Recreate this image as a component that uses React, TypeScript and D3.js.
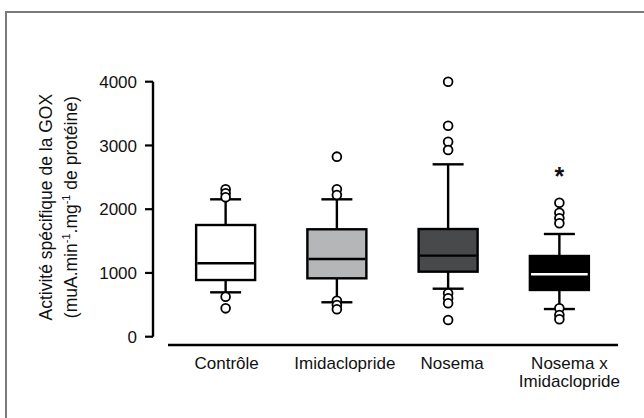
import React from 'react';
import * as d3 from 'd3';

const W = 644, H = 418;

const categories = [['Contrôle'], ['Imidaclopride'], ['Nosema'], ['Nosema x', 'Imidaclopride']];
const q1 = [889, 916, 1020, 733];
const median = [1151, 1219, 1271, 979];
const q3 = [1752, 1685, 1689, 1266];
const whiskLow = [696, 540, 753, 434];
const whiskHigh = [2155, 2155, 2704, 1611];
const outliers = [
  [2312, 2249, 2187, 627, 445],
  [2824, 2312, 2223, 565, 497, 430],
  [4000, 3310, 3059, 2929, 681, 602, 524, 262],
  [2102, 1945, 1857, 1779, 445, 340, 273],
];
const yTicks = [0, 1000, 2000, 3000, 4000];
const signif = ['', '', '', '*'];
const signifAt = 2600;

const fills = ['#ffffff', '#b5b6b8', '#48494b', '#000000'];
const medianColors = ['#000', '#000', '#000', '#fff'];
// labels in the original sit a little right of their boxes
const labelNudge = [1, 8, 4, 10];

const font = 'Arial, "Liberation Sans", sans-serif';

export default function App() {
  const y = d3.scaleLinear().domain([0, 4000]).range([336.7, 81.7]);
  const x = d3.scaleBand<number>().domain(d3.range(categories.length)).range([170, 615]).padding(0);
  const boxW = 59, capW = 31;
  const axisX = 153;

  return (
    <svg width={W} height={H} style={{ position: 'fixed', left: 0, top: 0, background: '#fff' }} fontFamily={font}>
      <rect width={W} height={H} fill="#fff" />
      {/* frame */}
      <path d={`M6,${H} V12 H${W}`} fill="none" stroke="#7a7a7a" strokeWidth={2} />

      {/* y axis */}
      <line x1={axisX} x2={axisX} y1={y(4000)} y2={y(0)} stroke="#000" strokeWidth={2.4} />
      {yTicks.map(t => (
        <g key={t}>
          <line x1={axisX - 8} x2={axisX} y1={y(t)} y2={y(t)} stroke="#000" strokeWidth={2.2} />
          <text x={137} y={y(t)} dy="0.36em" textAnchor="end" fontSize={17} fill="#111">{t}</text>
        </g>
      ))}
      <g transform={`translate(0,${(y(0) + y(4000)) / 2 - 2}) rotate(-90)`} fontSize={17.5} fill="#111" textAnchor="middle">
        <text x={0} y={52}>Activité spécifique de la GOX</text>
        <text x={0} y={77}>
          (muA.min<tspan fontSize={11} dy={-7}>-1</tspan>
          <tspan dy={7}>.mg</tspan>
          <tspan fontSize={11} dy={-7}>-1</tspan>
          <tspan dy={7}> de protéine)</tspan>
        </text>
      </g>

      {/* x axis */}
      <line x1={168} x2={618} y1={345} y2={345} stroke="#000" strokeWidth={2.4} />
      {categories.map((lines, i) => (
        <text key={i} x={(x(i) as number) + x.bandwidth() / 2 + labelNudge[i]} y={369} textAnchor="middle" fontSize={17} fill="#111">
          {lines.map((l, j) => (
            <tspan key={j} x={(x(i) as number) + x.bandwidth() / 2 + labelNudge[i]} dy={j === 0 ? 0 : 18}>{l}</tspan>
          ))}
        </text>
      ))}

      {/* boxes */}
      {categories.map((_, i) => {
        const cx = (x(i) as number) + x.bandwidth() / 2;
        return (
          <g key={i} stroke="#000" strokeWidth={2.4}>
            <line x1={cx} x2={cx} y1={y(whiskHigh[i])} y2={y(q3[i])} />
            <line x1={cx} x2={cx} y1={y(q1[i])} y2={y(whiskLow[i])} />
            <line x1={cx - capW / 2} x2={cx + capW / 2} y1={y(whiskHigh[i])} y2={y(whiskHigh[i])} />
            <line x1={cx - capW / 2} x2={cx + capW / 2} y1={y(whiskLow[i])} y2={y(whiskLow[i])} />
            <rect x={cx - boxW / 2} width={boxW} y={y(q3[i])} height={y(q1[i]) - y(q3[i])} fill={fills[i]} />
            <line x1={cx - boxW / 2 + 1.2} x2={cx + boxW / 2 - 1.2} y1={y(median[i])} y2={y(median[i])} stroke={medianColors[i]} />
            {outliers[i].map((v, k) => (
              <circle key={k} cx={cx} cy={y(v)} r={4.4} fill="#fff" strokeWidth={1.8} />
            ))}
            {signif[i] && (
              <text x={cx} y={y(signifAt) + 14} textAnchor="middle" fontSize={25} fontWeight="bold" fill="#111" stroke="none">{signif[i]}</text>
            )}
          </g>
        );
      })}
    </svg>
  );
}
